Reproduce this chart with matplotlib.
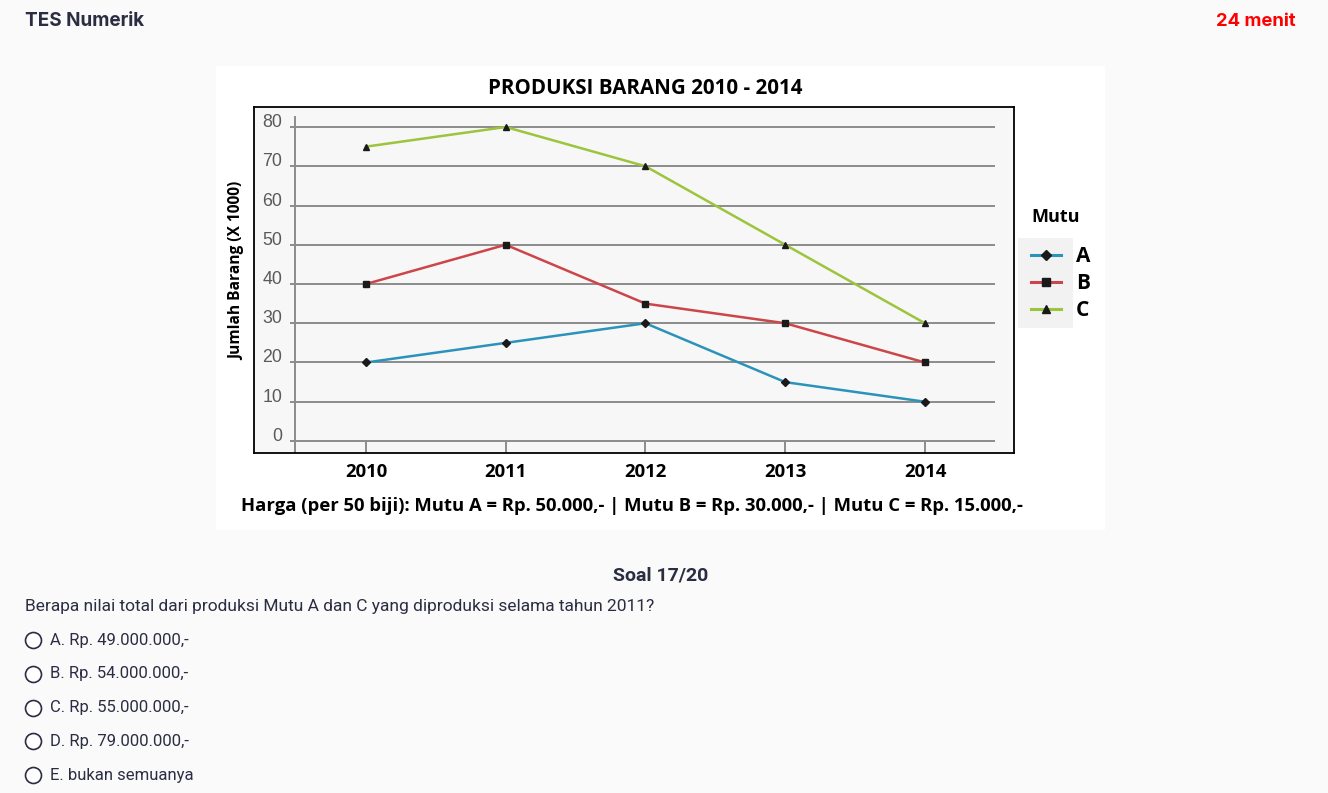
import matplotlib.pyplot as plt
from matplotlib.patches import Rectangle
from matplotlib.lines import Line2D

# data
years = [2010, 2011, 2012, 2013, 2014]
mutu_a = [20, 25, 30, 15, 10]
mutu_b = [40, 50, 35, 30, 20]
mutu_c = [75, 80, 70, 50, 30]
y_ticks = [0, 10, 20, 30, 40, 50, 60, 70, 80]
series_names = ["A", "B", "C"]

options = ["A. Rp. 49.000.000,-", "B. Rp. 54.000.000,-", "C. Rp. 55.000.000,-",
           "D. Rp. 79.000.000,-", "E. bukan semuanya"]

W, H = 1328, 793
fig = plt.figure(figsize=(W / 100, H / 100), dpi=100, facecolor="#fafafa")


def fx(px):
    return px / W


def fy(py):
    return 1 - py / H


# page header
fig.text(fx(25), fy(21), "TES Numerik", fontsize=13.6, fontweight="bold",
         family="Inter", color="#2b2d42", va="center")
fig.text(fx(1296), fy(21), "24 menit", fontsize=13.3, fontweight="bold",
         family="Inter", color="#ff0000", va="center", ha="right")

# white picture box
fig.patches.append(Rectangle((fx(216), fy(530)), fx(1105) - fx(216), fy(66) - fy(530),
                             transform=fig.transFigure, facecolor="white",
                             edgecolor="none", zorder=-5))
# grey background behind legend handles
fig.patches.append(Rectangle((fx(1018), fy(328)), fx(1073) - fx(1018), fy(238) - fy(328),
                             transform=fig.transFigure, facecolor="#f2f2f2",
                             edgecolor="none", zorder=-4))

chart_font = "Open Sans"
fig.text(fx(645), fy(88), "PRODUKSI BARANG 2010 - 2014", fontsize=14.8,
         fontweight="bold", family=chart_font, ha="center", va="center", color="black")

ax = fig.add_axes([fx(254), fy(453), fx(1014) - fx(254), fy(107) - fy(453)])
ax.set_facecolor("#f7f7f7")
ax.set_xlim(2009.199, 2014.637)
ax.set_ylim(-3.06, 85.1)
for sp in ax.spines.values():
    sp.set_color("black")
    sp.set_linewidth(1.3)

# gridlines and the inner y axis line
ax.hlines(y_ticks, 2009.456, 2014.5, color="#8c8c8c", lw=1.4, zorder=1)
ax.axvline(2009.492, ymin=0, ymax=(82.5 + 3.06) / 88.16, color="#8c8c8c", lw=1.4, zorder=1)

colors = ["#2b93ba", "#cc4549", "#9cc43c"]
markers = ["D", "s", "^"]
msizes = [4.5, 4.8, 5.0]
leg_msizes = [5.2, 5.8, 5.5]
handles = []
for vals, c, m, ms, name in zip([mutu_a, mutu_b, mutu_c], colors, markers, msizes, series_names):
    h, = ax.plot(years, vals, color=c, lw=1.8, marker=m, markersize=ms,
                 markerfacecolor="#1a1a1a", markeredgecolor="#1a1a1a", zorder=3, label=name)
    handles.append(h)

ax.set_yticks(y_ticks)
ax.set_yticklabels([str(v) for v in y_ticks], fontsize=12.8, family="Liberation Sans",
                   color="#5a5a5a")
ax.tick_params(axis="y", length=0, pad=-20.4)
for lab in ax.get_yticklabels():
    lab.set_va("baseline")

ax.set_xticks(years)
ax.set_xticklabels([str(y) for y in years], fontsize=13.3, fontweight="bold", family=chart_font)
ax.tick_params(axis="x", direction="in", length=8.6, width=1.4, color="#8c8c8c", pad=7)

fig.text(fx(237), fy(271), "Jumlah Barang (X 1000)", rotation=90, fontsize=11.2,
         fontweight="bold", family=chart_font, ha="center", va="center")

# legend
fig.text(fx(1031), fy(217), "Mutu", fontsize=13, fontweight="bold", family=chart_font,
         va="center", ha="left")
leg_handles = [Line2D([], [], color=h.get_color(), lw=2.2, marker=h.get_marker(),
                      markersize=ms, markerfacecolor="#1a1a1a",
                      markeredgecolor="#1a1a1a") for h, ms in zip(handles, leg_msizes)]
leg = fig.legend(leg_handles, series_names, loc="upper left",
                 bbox_to_anchor=(fx(1031), fy(246)),
                 frameon=False, handlelength=1.45, handletextpad=0.7,
                 labelspacing=0.3, borderpad=0, borderaxespad=0,
                 prop={"family": chart_font, "weight": "bold", "size": 15})

fig.text(fx(632), fy(506),
         "Harga (per 50 biji): Mutu A = Rp. 50.000,- | Mutu B = Rp. 30.000,- | Mutu C = Rp. 15.000,-",
         fontsize=13.3, fontweight="bold", family=chart_font, ha="center", va="center")

# question block
fig.text(fx(661), fy(575), "Soal 17/20", fontsize=14, fontweight="bold",
         family="Roboto", color="#2b2d42", ha="center", va="center")
fig.text(fx(25), fy(606),
         "Berapa nilai total dari produksi Mutu A dan C yang diproduksi selama tahun 2011?",
         fontsize=12.5, family="Roboto", color="#2b2d42", va="center")
for i, opt in enumerate(options):
    yy = 640 + i * 33.8
    fig.add_artist(Line2D([fx(33)], [fy(yy)], transform=fig.transFigure, marker="o",
                          markersize=11.5, markerfacecolor="white",
                          markeredgecolor="#2b2d42", markeredgewidth=1.2))
    fig.text(fx(50), fy(yy), opt, fontsize=12, family="Roboto", color="#2b2d42", va="center")

fig.savefig("out.png", dpi=100, facecolor=fig.get_facecolor())
